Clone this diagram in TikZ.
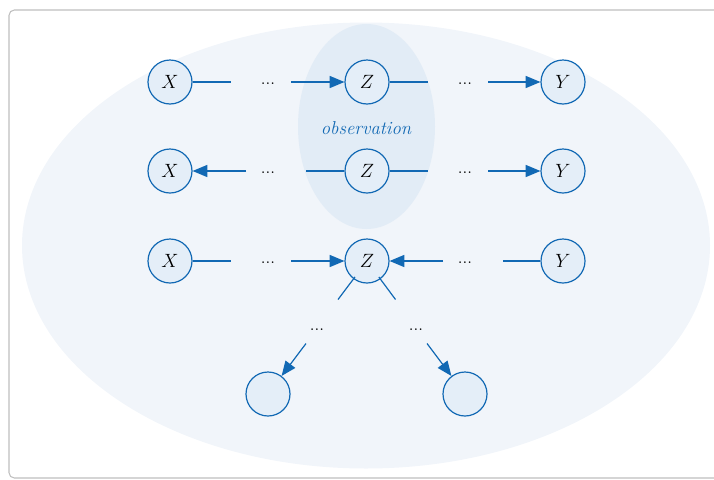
\documentclass[tikz,border=0pt]{standalone}
\usetikzlibrary{arrows.meta}
\definecolor{edgeblue}{HTML}{1269B4}
\definecolor{varfill}{HTML}{E4EEF8}
\definecolor{bigfill}{HTML}{F1F5FA}
\definecolor{obsfill}{HTML}{E2ECF6}
\tikzset{
  var/.style={circle, draw=edgeblue, fill=varfill, line width=.9pt,
    minimum size=33pt, inner sep=0pt, font=\fontsize{14}{16}\selectfont},
  gap/.style={font=\fontsize{13}{15}\selectfont, inner sep=0pt},
  link/.style={draw=edgeblue, line width=.9pt},
  arr/.style={link, -{Triangle[length=11pt,width=9pt]}}
}
\begin{document}
\begin{tikzpicture}[x=.75pt,y=-.75pt]
\useasboundingbox (0,0) rectangle (714,479);
% frame and shaded regions
\draw[gray!50, line width=.8pt, rounded corners=4pt] (9,10) rectangle (740,478);
\fill[bigfill] (366,245.5) ellipse[x radius=344, y radius=223];
\fill[obsfill] (366.5,126.5) ellipse[x radius=68.5, y radius=102.5];
\node[text=edgeblue, font=\fontsize{14}{16}\selectfont\itshape] (obs) at (366,128) {observation};

% chain: X -> ... -> Z -> ... -> Y
\node[var] (x1) at (170,82) {$X$};
\node[var] (z1) at (367,82) {$Z$};
\node[var] (y1) at (563,82) {$Y$};
\node[gap] (d1) at (268,84) {...};
\node[gap] (e1) at (465,84) {...};
\coordinate (x1r) at (231,82);
\coordinate (z1l) at (291,82);
\coordinate (z1r) at (428,82);
\coordinate (y1l) at (488,82);
\draw[link] (x1) -- (x1r);
\draw[arr] (z1l) -- (z1);
\draw[link] (z1) -- (z1r);
\draw[arr] (y1l) -- (y1);

% fork: X <- ... <- Z -> ... -> Y
\node[var] (x2) at (170,171) {$X$};
\node[var] (z2) at (367,171) {$Z$};
\node[var] (y2) at (563,171) {$Y$};
\node[gap] (d2) at (268,173) {...};
\node[gap] (e2) at (465,173) {...};
\coordinate (x2r) at (246,171);
\coordinate (z2l) at (306,171);
\coordinate (z2r) at (428,171);
\coordinate (y2l) at (488,171);
\draw[arr] (x2r) -- (x2);
\draw[link] (z2l) -- (z2);
\draw[link] (z2) -- (z2r);
\draw[arr] (y2l) -- (y2);

% collider: X -> ... -> Z <- ... <- Y
\node[var] (x3) at (170,261) {$X$};
\node[var] (z3) at (367,261) {$Z$};
\node[var] (y3) at (563,261) {$Y$};
\node[gap] (d3) at (268,263) {...};
\node[gap] (e3) at (465,263) {...};
\coordinate (x3r) at (231,261);
\coordinate (z3l) at (291,261);
\coordinate (z3r) at (443,261);
\coordinate (y3l) at (503,261);
\draw[link] (x3) -- (x3r);
\draw[arr] (z3l) -- (z3);
\draw[arr] (z3r) -- (z3);
\draw[link] (y3) -- (y3l);

% descendants of the collider
\node[var] (c1) at (268,394) {};
\node[var] (c2) at (465,394) {};
\node[gap] (d4) at (317,330) {...};
\node[gap] (e4) at (416,330) {...};
\coordinate (z3a) at (338,299.5);
\coordinate (z3b) at (395.5,299.5);
\coordinate (c1t) at (306,343.5);
\coordinate (c2t) at (427,343.5);
\draw[link, shorten <=-2pt] (z3) -- (z3a);
\draw[link, shorten <=-2pt] (z3) -- (z3b);
\draw[arr] (c1t) -- (c1);
\draw[arr] (c2t) -- (c2);
\end{tikzpicture}
\end{document}
